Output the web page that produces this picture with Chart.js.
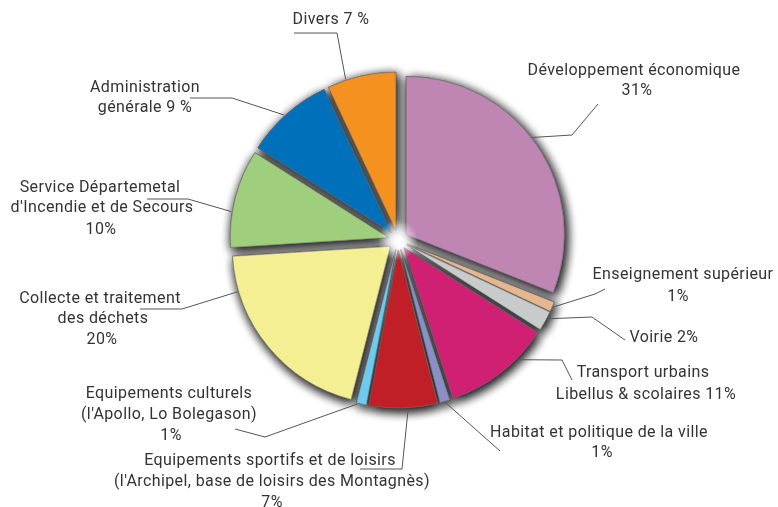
<!DOCTYPE html>
<html>
<head>
<meta charset="utf-8">
<script src="https://cdn.jsdelivr.net/npm/chart.js@4/dist/chart.umd.min.js"></script>
<style>
  html, body { margin: 0; padding: 0; background: #ffffff; }
  #wrap { width: 778px; height: 507px; position: relative; }
</style>
</head>
<body>
<div id="wrap"><canvas id="c" width="778" height="507"></canvas></div>
<script>
// ---- data ----
const categories = [
  'Développement économique',
  'Enseignement supérieur',
  'Voirie',
  'Transport urbains Libellus & scolaires',
  'Habitat et politique de la ville',
  'Equipements sportifs et de loisirs',
  'Equipements culturels',
  'Collecte et traitement des déchets',
  "Service Départemetal d'Incendie et de Secours",
  'Administration générale',
  'Divers'
];
const shares = [31, 1, 2, 11, 1, 7, 1, 20, 10, 9, 7];
const sliceColors = [
  '#bf85b3', '#e6b78e', '#c9cacc', '#d02073', '#8a8fc7', '#c01f28',
  '#6dcbf0', '#f5ef93', '#9fcf7d', '#0070bb', '#f5921f'
];
// label text lines ({v} is replaced by the share)
const labelLines = [
  ['Développement économique', '{v}%'],
  ['Enseignement supérieur', '{v}%'],
  ['Voirie {v}%'],
  ['Transport urbains', 'Libellus & scolaires {v}%'],
  ['Habitat et politique de la ville', '{v}%'],
  ['Equipements sportifs et de loisirs', "(l'Archipel, base de loisirs des Montagnès)", '{v}%'],
  ['Equipements culturels', "(l'Apollo, Lo Bolegason)", '{v}%'],
  ['Collecte et traitement', 'des déchets', '{v}%'],
  ['Service Départemetal', "d'Incendie et de Secours", '{v}%'],
  ['Administration', 'générale {v} %'],
  ['Divers {v} %']
];

// ---- layout of labels (positions only) ----
const labelLayout = [
  { frac: 0.47, pos: [[634, 71], [637, 91]], path: [[572, 135], [598, 104]] },
  { frac: 0.5,  pos: [[683, 275], [678, 297]], path: [[595, 294], [605, 289]] },
  { frac: 0.35, pos: [[664, 338]], path: [[592, 317], [625, 340]] },
  { frac: 0.31, pos: [[643, 373], [646, 395]], path: [[562, 360], [572, 380]] },
  { frac: 0.5,  pos: [[599, 433], [602, 453]], path: [[500, 451]] },
  { frac: 0.43, pos: [[270, 461], [272, 482], [272, 503]], path: [[402, 469], [360, 469]] },
  { frac: 0.9,  pos: [[169, 394], [169, 415], [171, 436]], path: [[265, 437], [235, 429]] },
  { frac: 0.82, pos: [[100, 299], [103, 319], [102, 340]], path: [[182, 309], [140, 309]] },
  { frac: 0.36, pos: [[100, 188], [102, 208], [101, 230]], path: [[188, 199], [147, 199]] },
  { frac: 0.47, pos: [[145, 88], [145, 108]], path: [[232, 98], [190, 98]] },
  { frac: 0.27, pos: [[331, 20]], path: [[337, 33], [294, 33]] }
];

const EXPLODE = 10;
const FONT = '16px Roboto, "Liberation Sans", sans-serif';

const explodePlugin = {
  id: 'explode',
  afterDatasetsUpdate(chart) {
    const meta = chart.getDatasetMeta(0);
    meta.data.forEach(el => {
      const mid = (el.startAngle + el.endAngle) / 2;
      el.x += Math.cos(mid) * EXPLODE;
      el.y += Math.sin(mid) * EXPLODE;
    });
  }
};

const shadowPlugin = {
  id: 'shadowPass',
  beforeDatasetsDraw(chart) {
    const ctx = chart.ctx;
    const meta = chart.getDatasetMeta(0);
    ctx.save();
    ctx.shadowColor = 'rgba(0,0,0,0.75)';
    ctx.shadowBlur = 11;
    ctx.shadowOffsetX = 2;
    ctx.shadowOffsetY = 3;
    meta.data.forEach(el => el.draw(ctx));
    meta.data.forEach(el => el.draw(ctx));
    ctx.restore();
  },
  afterDatasetsDraw(chart) {
    const ctx = chart.ctx;
    const a = chart.chartArea;
    const cx = (a.left + a.right) / 2, cy = (a.top + a.bottom) / 2;
    const g = ctx.createRadialGradient(cx, cy, 0, cx, cy, 20);
    g.addColorStop(0, 'rgba(255,255,255,0.95)');
    g.addColorStop(0.45, 'rgba(255,255,255,0.6)');
    g.addColorStop(1, 'rgba(255,255,255,0)');
    ctx.save();
    ctx.fillStyle = g;
    ctx.beginPath();
    ctx.arc(cx, cy, 20, 0, Math.PI * 2);
    ctx.fill();
    ctx.restore();
  }
};

const labelPlugin = {
  id: 'leaderLabels',
  afterDraw(chart) {
    const ctx = chart.ctx;
    const meta = chart.getDatasetMeta(0);
    ctx.save();
    meta.data.forEach((el, i) => {
      const L = labelLayout[i];
      const ang = el.startAngle + L.frac * (el.endAngle - el.startAngle);
      const r = el.outerRadius + 1;
      const ax = el.x + Math.cos(ang) * r;
      const ay = el.y + Math.sin(ang) * r;
      ctx.strokeStyle = '#555555';
      ctx.lineWidth = 1;
      ctx.beginPath();
      ctx.moveTo(ax, ay);
      L.path.forEach(p => ctx.lineTo(p[0], p[1]));
      ctx.stroke();
      ctx.fillStyle = '#333333';
      ctx.font = FONT;
      if ('letterSpacing' in ctx) ctx.letterSpacing = '0.4px';
      ctx.textAlign = 'center';
      ctx.textBaseline = 'middle';
      labelLines[i].forEach((t, k) => {
        const txt = t.replace('{v}', shares[i]);
        ctx.fillText(txt, L.pos[k][0], L.pos[k][1]);
      });
    });
    ctx.restore();
  }
};

new Chart(document.getElementById('c'), {
  type: 'pie',
  data: {
    labels: categories,
    datasets: [{
      data: shares,
      backgroundColor: sliceColors,
      borderColor: 'rgba(110,110,110,0.55)',
      borderWidth: 1,
      radius: 158
    }]
  },
  options: {
    responsive: false,
    animation: false,
    events: [],
    layout: { padding: { left: 30, right: 12, top: 0, bottom: 27 } },
    plugins: { legend: { display: false }, tooltip: { enabled: false } }
  },
  plugins: [explodePlugin, shadowPlugin, labelPlugin]
});
</script>
</body>
</html>
